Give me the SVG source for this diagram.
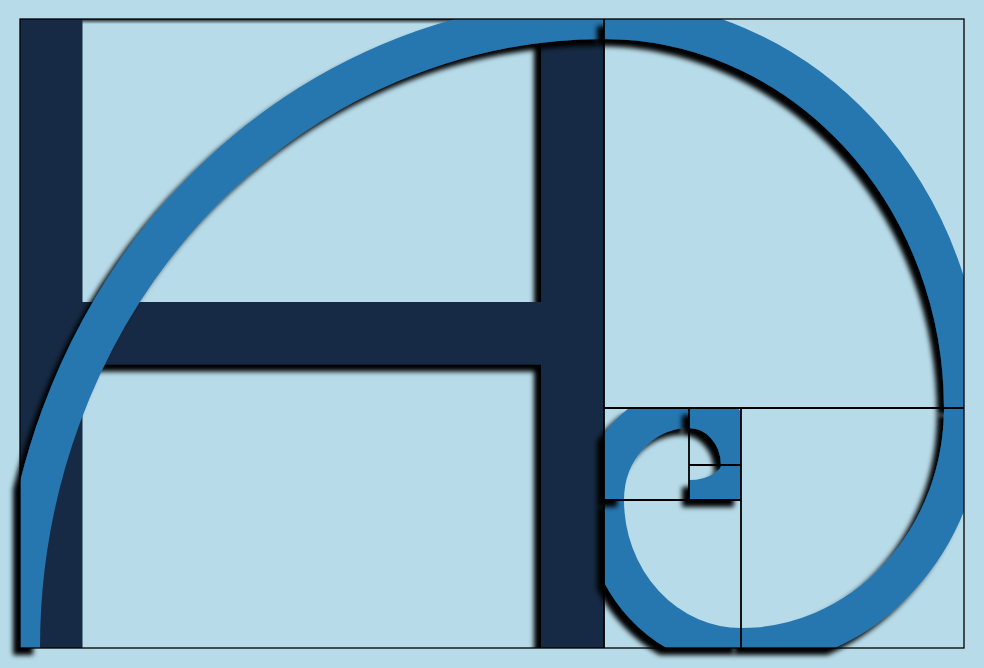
<svg xmlns="http://www.w3.org/2000/svg" width="984" height="668" viewBox="0 0 984 668">
  <style>
    .spiral { fill: none; stroke: #2676b0; stroke-width: 40; stroke-linecap: butt; }
    .bar { fill: #122c45; }
    .frame { fill: none; stroke: #000000; stroke-width: 1.3; }
    .grid { fill: none; stroke: #000000; stroke-width: 1.8; }
  </style>
  <defs>
    <filter id="shadow" filterUnits="userSpaceOnUse" x="0" y="0" width="984" height="668">
      <feGaussianBlur in="SourceAlpha" stdDeviation="2.5"/>
      <feOffset dx="-7" dy="7" result="sh"/>
      <feMerge>
        <feMergeNode in="sh"/>
        <feMergeNode in="SourceGraphic"/>
      </feMerge>
    </filter>
    <linearGradient id="topShade" x1="0" y1="0" x2="0" y2="1">
      <stop offset="0" stop-color="#000" stop-opacity="0.85"/>
      <stop offset="1" stop-color="#000" stop-opacity="0"/>
    </linearGradient>
    <clipPath id="cAll"><rect x="20" y="19" width="944" height="629"/></clipPath>
    <clipPath id="c1"><rect x="20" y="19" width="584" height="629"/></clipPath>
    <clipPath id="c2"><rect x="604" y="19" width="360" height="389"/></clipPath>
    <clipPath id="c3"><rect x="741" y="408" width="223" height="240"/></clipPath>
    <clipPath id="c4"><rect x="604" y="500" width="137" height="148"/></clipPath>
    <clipPath id="c5"><rect x="604" y="408" width="85" height="92"/></clipPath>
    <clipPath id="c6"><rect x="689" y="408" width="52" height="57"/></clipPath>
    <clipPath id="c7"><rect x="689" y="465" width="52" height="35"/></clipPath>
  </defs>

  <rect x="0" y="0" width="984" height="668" fill="#b7dbe9"/>
  <rect x="82" y="19" width="522" height="5" fill="url(#topShade)"/>

  <g id="h-shape" clip-path="url(#cAll)">
    <g filter="url(#shadow)">
      <rect class="bar" x="20" y="19" width="62.5" height="629"/>
      <rect class="bar" x="541" y="19" width="63" height="629"/>
      <rect class="bar" x="82" y="302" width="460" height="62.5"/>
    </g>
  </g>

  <g id="spiral">
    <g id="arc1" filter="url(#shadow)"><path class="spiral" clip-path="url(#c1)" d="M20,648 A584,629 0 0 1 604,19"/></g>
    <g id="arc2" filter="url(#shadow)"><path class="spiral" clip-path="url(#c2)" d="M604,19 A360,389 0 0 1 964,408"/></g>
    <g id="arc3" filter="url(#shadow)"><path class="spiral" clip-path="url(#c3)" d="M964,408 A223,240 0 0 1 741,648"/></g>
    <g id="arc4" filter="url(#shadow)"><path class="spiral" clip-path="url(#c4)" d="M741,648 A137,148 0 0 1 604,500"/></g>
    <g id="arc5" filter="url(#shadow)"><path class="spiral" clip-path="url(#c5)" d="M604,500 A85,92 0 0 1 689,408"/></g>
    <g id="arc6" filter="url(#shadow)"><path class="spiral" clip-path="url(#c6)" d="M689,408 A52,57 0 0 1 741,465"/></g>
    <g id="arc7" filter="url(#shadow)"><path class="spiral" clip-path="url(#c7)" d="M741,465 A52,35 0 0 1 689,500"/></g>
  </g>

  <g id="grid">
    <rect class="frame" x="20" y="19" width="944" height="629"/>
    <path class="grid" d="M604,19 V648 M604,408 H964 M741,408 V648 M604,500 H741 M689,408 V500 M689,465 H741"/>
  </g>
</svg>
